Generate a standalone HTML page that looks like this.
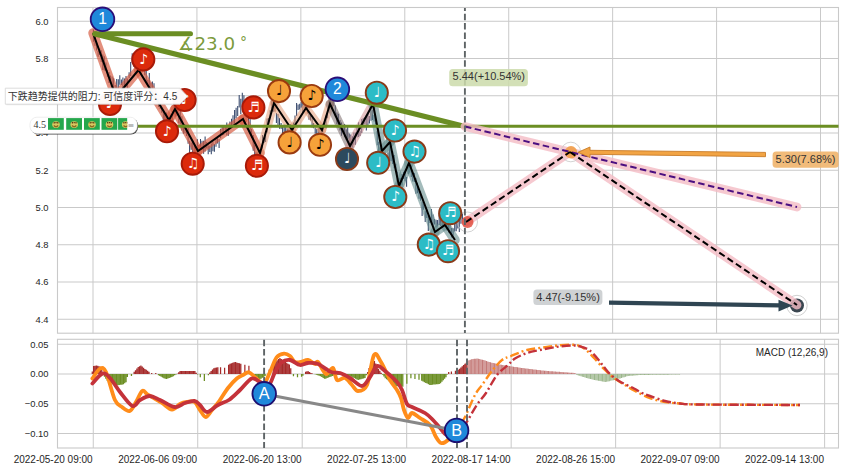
<!DOCTYPE html>
<html><head><meta charset="utf-8"><title>chart</title>
<style>html,body{margin:0;padding:0;background:#fff;width:844px;height:471px;overflow:hidden}svg{display:block}</style>
</head><body>
<svg width="844" height="471" viewBox="0 0 844 471">
<rect width="844" height="471" fill="#fff"/>
<rect x="57.5" y="7.5" width="781.0" height="325.7" fill="#fff" stroke="#c9c9c9" stroke-width="1.1"/>
<rect x="57.5" y="339.3" width="781.0" height="108.69999999999999" fill="#fff" stroke="#c9c9c9" stroke-width="1.1"/>
<path d="M57.5 21.25H838.5 M57.5 58.50H838.5 M57.5 95.75H838.5 M57.5 133.00H838.5 M57.5 170.25H838.5 M57.5 207.50H838.5 M57.5 244.75H838.5 M57.5 282.00H838.5 M57.5 319.25H838.5 M93.00 7.5V333.2 M196.93 7.5V333.2 M300.86 7.5V333.2 M404.79 7.5V333.2 M508.72 7.5V333.2 M612.65 7.5V333.2 M716.58 7.5V333.2 M820.51 7.5V333.2 M57.5 344.25H838.5 M57.5 374.00H838.5 M57.5 403.75H838.5 M57.5 433.50H838.5 M93.25 339.3V448.0 M197.73 339.3V448.0 M302.21 339.3V448.0 M406.69 339.3V448.0 M511.17 339.3V448.0 M615.65 339.3V448.0 M720.13 339.3V448.0 M824.61 339.3V448.0" stroke="#c9c9c9" stroke-width="1" fill="none"/>
<g font-family="Liberation Sans, Arial, sans-serif" font-size="10" fill="#262626" text-anchor="end">
<text x="48.5" y="24.65" font-size="9.4">6.0</text>
<text x="48.5" y="61.90" font-size="9.4">5.8</text>
<text x="48.5" y="99.15" font-size="9.4">5.6</text>
<text x="48.5" y="136.40" font-size="9.4">5.4</text>
<text x="48.5" y="173.65" font-size="9.4">5.2</text>
<text x="48.5" y="210.90" font-size="9.4">5.0</text>
<text x="48.5" y="248.15" font-size="9.4">4.8</text>
<text x="48.5" y="285.40" font-size="9.4">4.6</text>
<text x="48.5" y="322.65" font-size="9.4">4.4</text>
<text x="48.5" y="347.65" font-size="9.4">0.05</text>
<text x="48.5" y="377.40" font-size="9.4">0.00</text>
<text x="48.5" y="407.15" font-size="9.4">−0.05</text>
<text x="48.5" y="436.90" font-size="9.4">−0.10</text>
<text x="92.65" y="462.6">2022-05-20 09:00</text>
<text x="197.13" y="462.6">2022-06-06 09:00</text>
<text x="301.61" y="462.6">2022-06-20 13:00</text>
<text x="406.09" y="462.6">2022-07-25 13:00</text>
<text x="510.57" y="462.6">2022-08-17 14:00</text>
<text x="615.05" y="462.6">2022-08-26 15:00</text>
<text x="719.53" y="462.6">2022-09-07 09:00</text>
<text x="824.01" y="462.6">2022-09-14 13:00</text>
</g>
<path d="M93.5 29.5v12.2 M95.0 34.8v10.9 M96.6 45.1v5.4 M98.1 51.0v5.8 M99.7 48.6v6.4 M101.2 50.2v11.9 M102.8 54.4v15.7 M104.3 56.2v14.4 M105.9 62.5v8.4 M107.4 69.8v7.0 M109.0 72.1v11.0 M110.5 75.5v5.7 M112.1 76.4v8.5 M113.6 78.3v10.0 M115.2 85.0v7.7 M116.7 78.9v10.8 M118.3 79.2v15.8 M119.8 75.2v9.6 M121.4 79.5v5.4 M122.9 77.6v13.4 M124.5 78.5v12.6 M126.0 76.1v11.4 M127.6 78.6v10.2 M129.1 72.2v5.7 M130.7 61.9v14.0 M132.2 53.2v9.2 M133.8 59.9v6.8 M135.3 58.9v5.6 M136.9 57.3v9.3 M138.5 61.4v5.9 M140.0 51.4v14.0 M141.6 58.3v8.1 M143.1 55.8v15.5 M144.7 68.3v6.9 M146.2 70.3v11.5 M147.8 79.8v5.0 M149.3 73.1v15.5 M150.9 82.5v10.7 M152.4 81.4v14.9 M154.0 83.2v14.6 M155.5 89.1v6.1 M157.1 95.8v5.7 M158.6 98.2v8.7 M160.2 103.9v5.0 M161.7 107.4v5.3 M163.3 110.8v11.8 M164.8 113.9v9.0 M166.4 112.4v14.3 M167.9 118.4v5.9 M169.5 118.4v8.8 M171.0 116.2v5.3 M172.6 111.0v10.8 M174.1 103.6v10.8 M175.7 102.0v14.5 M177.2 108.8v6.8 M178.8 112.4v10.9 M180.3 110.7v13.9 M181.9 116.2v14.4 M183.4 126.2v7.5 M185.0 124.4v8.9 M186.5 128.2v7.9 M188.1 128.3v15.5 M189.6 140.7v15.5 M191.2 142.4v7.4 M192.7 140.4v11.9 M194.3 145.6v14.2 M195.8 147.7v5.9 M197.4 139.3v15.0 M198.9 144.9v7.0 M200.5 138.9v8.7 M202.0 140.7v9.4 M203.6 140.7v13.0 M205.1 136.6v15.0 M206.7 142.0v6.6 M208.2 145.3v8.9 M209.8 145.6v6.4 M211.3 143.5v10.8 M212.9 141.5v9.8 M214.4 143.9v7.8 M216.0 139.1v7.6 M217.5 137.1v6.4 M219.1 139.1v8.9 M220.6 128.7v9.6 M222.2 124.9v10.5 M223.7 125.3v9.8 M225.3 125.0v5.0 M226.8 122.4v13.0 M228.4 127.2v8.6 M229.9 121.5v6.2 M231.5 118.7v7.7 M233.0 115.2v11.2 M234.6 110.0v15.0 M236.1 107.7v10.6 M237.7 106.0v10.0 M239.2 94.9v12.7 M240.8 98.8v15.4 M242.3 92.8v14.2 M243.9 95.3v6.3 M245.4 102.6v5.8 M247.0 102.9v13.6 M248.5 115.2v12.3 M250.1 118.0v14.7 M251.6 128.7v9.4 M253.2 134.9v15.9 M254.7 144.7v10.7 M256.3 151.8v7.2 M257.8 151.6v11.1 M259.4 156.3v5.2 M260.9 149.1v5.7 M262.5 134.9v13.7 M264.0 137.5v5.4 M265.6 133.9v8.0 M267.1 118.6v14.0 M268.7 118.1v6.6 M270.2 110.3v6.0 M271.8 98.9v12.6 M273.3 99.7v12.0 M274.9 105.5v5.9 M276.4 112.9v10.0 M278.0 113.9v11.1 M279.5 117.9v10.8 M281.1 122.9v6.2 M282.6 125.0v8.4 M284.2 124.8v13.4 M285.7 126.6v8.8 M287.3 128.4v7.8 M288.8 128.4v7.1 M290.4 124.0v15.3 M291.9 126.3v10.4 M293.5 122.5v9.3 M295.0 115.6v8.8 M296.6 103.1v12.8 M298.1 104.4v5.6 M299.7 103.7v5.8 M301.2 101.9v5.9 M302.8 98.0v14.6 M304.3 100.0v8.2 M305.9 101.5v6.7 M307.4 97.9v15.7 M309.0 112.0v7.7 M310.5 115.4v5.0 M312.1 117.3v10.2 M313.6 123.1v5.1 M315.2 127.7v6.0 M316.7 129.0v8.3 M318.3 127.8v11.4 M319.8 126.5v12.9 M321.4 127.3v9.3 M322.9 123.7v13.0 M324.5 121.9v5.5 M326.0 115.5v13.1 M327.6 111.7v6.5 M329.1 94.5v13.9 M330.7 94.3v11.4 M332.2 101.0v7.5 M333.8 99.5v6.5 M335.3 105.5v11.1 M336.9 112.4v11.9 M338.4 113.8v13.8 M340.0 119.9v10.5 M341.5 122.6v13.1 M343.1 127.7v5.8 M344.6 124.1v13.1 M346.2 129.6v10.4 M347.7 125.5v13.4 M349.3 133.6v12.1 M350.8 134.4v13.2 M352.4 136.2v11.2 M353.9 132.4v12.4 M355.5 132.4v12.4 M357.0 127.3v10.1 M358.6 122.2v14.8 M360.1 130.7v5.2 M361.7 119.1v14.0 M363.2 118.0v7.3 M364.8 116.9v7.3 M366.3 115.0v15.5 M367.9 113.3v14.0 M369.4 115.9v7.5 M371.0 110.4v10.3 M372.5 109.9v10.0 M374.1 115.0v6.5 M375.6 119.5v5.0 M377.2 131.1v14.2 M378.7 141.7v14.9 M380.3 148.0v9.1 M381.8 159.6v9.0 M383.4 159.3v8.0 M384.9 158.6v8.1 M386.5 161.4v7.7 M388.0 152.5v9.1 M389.6 146.2v14.7 M391.1 145.9v15.3 M392.7 151.2v12.9 M394.2 155.0v13.3 M395.8 163.7v8.1 M397.3 171.4v10.2 M398.9 177.9v8.3 M400.4 178.1v12.2 M402.0 174.1v11.1 M403.5 171.8v7.3 M405.1 170.7v10.5 M406.6 176.9v9.9 M408.2 166.9v7.1 M409.7 164.9v7.6 M411.3 165.6v11.3 M412.8 171.8v9.6 M414.4 173.0v9.1 M415.9 178.1v15.6 M417.5 182.7v10.5 M419.0 190.7v8.0 M420.6 191.3v9.4 M422.1 201.5v14.6 M423.7 204.3v5.4 M425.2 210.6v11.5 M426.8 208.7v9.3 M428.3 215.4v15.7 M429.9 216.8v6.2 M431.4 209.0v15.4 M433.0 214.5v12.1 M434.5 219.0v5.4 M436.1 219.8v7.6 M437.6 220.1v6.4 M439.2 213.1v12.0 M440.7 215.1v10.8 M442.3 217.7v9.3 M443.8 216.4v8.3 M445.4 211.7v15.5 M446.9 223.0v7.6 M448.5 216.9v15.6 M450.0 222.5v10.5 M451.6 228.0v9.6 M453.1 228.3v7.5 M454.7 222.8v8.7 M456.2 217.4v13.8 M457.8 217.9v10.6 M459.3 217.9v14.0 M460.9 216.4v7.4 M462.4 212.7v10.5" stroke="#34466a" stroke-width="1.05" fill="none"/>
<line x1="93" y1="33" x2="116" y2="97" stroke="#d65a40" stroke-opacity="0.68" stroke-width="9.5" stroke-linecap="round"/>
<line x1="116" y1="97" x2="138.5" y2="70" stroke="#d65a40" stroke-opacity="0.68" stroke-width="9.5" stroke-linecap="round"/>
<line x1="138.5" y1="70" x2="169" y2="120" stroke="#d65a40" stroke-opacity="0.68" stroke-width="9.5" stroke-linecap="round"/>
<line x1="169" y1="120" x2="175" y2="109" stroke="#d65a40" stroke-opacity="0.68" stroke-width="9.5" stroke-linecap="round"/>
<line x1="175" y1="109" x2="198" y2="151" stroke="#d65a40" stroke-opacity="0.68" stroke-width="9.5" stroke-linecap="round"/>
<line x1="198" y1="151" x2="243" y2="119" stroke="#d65a40" stroke-opacity="0.68" stroke-width="9.5" stroke-linecap="round"/>
<line x1="243" y1="119" x2="260" y2="153" stroke="#d65a40" stroke-opacity="0.68" stroke-width="9.5" stroke-linecap="round"/>
<line x1="260" y1="153" x2="274" y2="103" stroke="#e19169" stroke-opacity="0.5" stroke-width="8.5" stroke-linecap="round"/>
<line x1="274" y1="103" x2="292" y2="130" stroke="#e19169" stroke-opacity="0.5" stroke-width="8.5" stroke-linecap="round"/>
<line x1="292" y1="130" x2="306" y2="108" stroke="#e19169" stroke-opacity="0.5" stroke-width="8.5" stroke-linecap="round"/>
<line x1="306" y1="108" x2="322" y2="130" stroke="#e19169" stroke-opacity="0.5" stroke-width="8.5" stroke-linecap="round"/>
<line x1="322" y1="130" x2="330" y2="104" stroke="#e19169" stroke-opacity="0.5" stroke-width="8.5" stroke-linecap="round"/>
<line x1="330" y1="104" x2="350" y2="146" stroke="#7a6969" stroke-opacity="0.55" stroke-width="9" stroke-linecap="round"/>
<line x1="350" y1="146" x2="373" y2="104" stroke="#d29292" stroke-opacity="0.55" stroke-width="9" stroke-linecap="round"/>
<line x1="373" y1="104" x2="382" y2="151" stroke="#618a8a" stroke-opacity="0.58" stroke-width="9.5" stroke-linecap="round"/>
<line x1="382" y1="151" x2="390" y2="142" stroke="#618a8a" stroke-opacity="0.58" stroke-width="9.5" stroke-linecap="round"/>
<line x1="390" y1="142" x2="399" y2="186" stroke="#618a8a" stroke-opacity="0.58" stroke-width="9.5" stroke-linecap="round"/>
<line x1="399" y1="186" x2="409" y2="163" stroke="#618a8a" stroke-opacity="0.58" stroke-width="9.5" stroke-linecap="round"/>
<line x1="409" y1="163" x2="435" y2="232" stroke="#618a8a" stroke-opacity="0.58" stroke-width="9.5" stroke-linecap="round"/>
<line x1="435" y1="232" x2="445" y2="225" stroke="#618a8a" stroke-opacity="0.58" stroke-width="9.5" stroke-linecap="round"/>
<line x1="445" y1="225" x2="455" y2="240" stroke="#618a8a" stroke-opacity="0.58" stroke-width="9.5" stroke-linecap="round"/>
<polyline points="93,33 116,97 138.5,70 169,120 175,109 198,151 243,119 260,153 274,103 292,130 306,108 322,130 330,104 350,146 373,104 382,151 390,142 399,186 409,163 435,232 445,225 455,240" fill="none" stroke="#000" stroke-width="2" stroke-linejoin="miter"/>
<line x1="60" y1="126.2" x2="838.5" y2="126.2" stroke="#6b8e23" stroke-width="3"/>
<line x1="95" y1="34" x2="465" y2="126.5" stroke="#6b8e23" stroke-width="5.3" stroke-linecap="round"/>
<line x1="95" y1="33.8" x2="190.5" y2="33.8" stroke="#6b8e23" stroke-width="5" stroke-linecap="round"/>
<text x="178" y="50" font-family="DejaVu Sans, sans-serif" font-size="18.3" fill="#6b8e23" fill-opacity="0.9">∡23.0<tspan dx="4.8" dy="-3.4" font-size="14">°</tspan></text>
<circle cx="797" cy="305.5" r="10.2" fill="none" stroke="#c4c4c4" stroke-width="0.8"/>
<circle cx="797" cy="305.5" r="7" fill="#3a4650"/>
<line x1="465" y1="126.5" x2="797" y2="207" stroke="#f4bcc4" stroke-opacity="0.8" stroke-width="8.8" stroke-linecap="round"/>
<line x1="466" y1="222" x2="570" y2="152" stroke="#f4bcc4" stroke-opacity="0.8" stroke-width="8.8" stroke-linecap="round"/>
<line x1="570" y1="152" x2="797" y2="305" stroke="#f4bcc4" stroke-opacity="0.8" stroke-width="8.8" stroke-linecap="round"/>
<circle cx="467.5" cy="222" r="10" fill="none" stroke="#c8c8c8" stroke-width="0.8"/>
<circle cx="467.5" cy="222" r="6" fill="#e04535" fill-opacity="0.8"/>
<circle cx="570.8" cy="152" r="9.8" fill="none" stroke="#c8c8c8" stroke-width="0.8"/>
<circle cx="571" cy="152.3" r="6.2" fill="#f0a050" fill-opacity="0.95"/>
<line x1="465" y1="126.5" x2="797" y2="207" stroke="#4b0f80" stroke-width="2" stroke-dasharray="6.5 3.5"/>
<line x1="466" y1="222" x2="570" y2="152" stroke="#000" stroke-width="2" stroke-dasharray="6.5 3.5"/>
<line x1="570" y1="152" x2="797" y2="305" stroke="#000" stroke-width="2" stroke-dasharray="6.5 3.5"/>
<path d="M765.5 152.4 L765.5 156.7 L590 154.3 L590 157.5 L578 152.3 L590 147 L590 150.3 Z" fill="#f2a444" stroke="#c87c28" stroke-width="0.9" stroke-linejoin="round"/>
<path d="M609 300.6 L780 303.3 L780 307.5 L609 304.8 Z" fill="#2f4552"/>
<path d="M792.5 305.6 L778.5 299.8 L778.5 311.4 Z" fill="#2f4552"/>
<line x1="464.9" y1="8" x2="464.9" y2="333" stroke="#5e6466" stroke-width="1.9" stroke-dasharray="6.5 2.8" stroke-dashoffset="3.5"/>
<circle cx="143.3" cy="59.4" r="11.1" fill="#dc2a0c" stroke="#a81a08" stroke-width="1.9"/>
<text x="143.6" y="63.6" font-family="DejaVu Sans, sans-serif" font-size="14" fill="#fff" text-anchor="middle">♪</text>
<circle cx="110" cy="104" r="11.1" fill="#dc2a0c" stroke="#a81a08" stroke-width="1.9"/>
<text x="110.3" y="108.2" font-family="DejaVu Sans, sans-serif" font-size="14" fill="#fff" text-anchor="middle">♪</text>
<circle cx="184.6" cy="100" r="11.1" fill="#dc2a0c" stroke="#a81a08" stroke-width="1.9"/>
<text x="184.9" y="104.2" font-family="DejaVu Sans, sans-serif" font-size="14" fill="#fff" text-anchor="middle">♪</text>
<circle cx="167" cy="131.3" r="11.1" fill="#dc2a0c" stroke="#a81a08" stroke-width="1.9"/>
<text x="167.3" y="135.5" font-family="DejaVu Sans, sans-serif" font-size="14" fill="#fff" text-anchor="middle">♪</text>
<circle cx="192.7" cy="163.7" r="11.1" fill="#dc2a0c" stroke="#a81a08" stroke-width="1.9"/>
<text x="193.0" y="167.9" font-family="DejaVu Sans, sans-serif" font-size="14" fill="#fff" text-anchor="middle">♫</text>
<circle cx="253.4" cy="107.4" r="11.1" fill="#dc2a0c" stroke="#a81a08" stroke-width="1.9"/>
<text x="253.7" y="111.6" font-family="DejaVu Sans, sans-serif" font-size="14" fill="#fff" text-anchor="middle">♬</text>
<circle cx="256.9" cy="165.8" r="11.1" fill="#dc2a0c" stroke="#a81a08" stroke-width="1.9"/>
<text x="257.2" y="170.0" font-family="DejaVu Sans, sans-serif" font-size="14" fill="#fff" text-anchor="middle">♬</text>
<circle cx="279" cy="91.1" r="11.1" fill="#f6a23a" stroke="#9a3a10" stroke-width="1.9"/>
<text x="279.3" y="95.3" font-family="DejaVu Sans, sans-serif" font-size="14" fill="#000" text-anchor="middle">♩</text>
<circle cx="311.7" cy="96" r="11.1" fill="#f6a23a" stroke="#9a3a10" stroke-width="1.9"/>
<text x="312.0" y="100.2" font-family="DejaVu Sans, sans-serif" font-size="14" fill="#000" text-anchor="middle">♪</text>
<circle cx="289.6" cy="142.4" r="11.1" fill="#f6a23a" stroke="#9a3a10" stroke-width="1.9"/>
<text x="289.9" y="146.6" font-family="DejaVu Sans, sans-serif" font-size="14" fill="#000" text-anchor="middle">♩</text>
<circle cx="320" cy="144.8" r="11.1" fill="#f6a23a" stroke="#9a3a10" stroke-width="1.9"/>
<text x="320.3" y="149.0" font-family="DejaVu Sans, sans-serif" font-size="14" fill="#000" text-anchor="middle">♪</text>
<circle cx="347" cy="159" r="11.1" fill="#2c4a5e" stroke="#8a3a18" stroke-width="1.9"/>
<text x="347.3" y="163.2" font-family="DejaVu Sans, sans-serif" font-size="14" fill="#fff" text-anchor="middle">♩</text>
<circle cx="376.8" cy="92.7" r="11.1" fill="#2cbcc6" stroke="#8a3a18" stroke-width="1.9"/>
<text x="377.1" y="96.9" font-family="DejaVu Sans, sans-serif" font-size="14" fill="#fff" text-anchor="middle">♩</text>
<circle cx="378.2" cy="162.8" r="11.1" fill="#2cbcc6" stroke="#8a3a18" stroke-width="1.9"/>
<text x="378.5" y="167.0" font-family="DejaVu Sans, sans-serif" font-size="14" fill="#fff" text-anchor="middle">♩</text>
<circle cx="395" cy="130.5" r="11.1" fill="#2cbcc6" stroke="#8a3a18" stroke-width="1.9"/>
<text x="395.3" y="134.7" font-family="DejaVu Sans, sans-serif" font-size="14" fill="#fff" text-anchor="middle">♪</text>
<circle cx="395.3" cy="197" r="11.1" fill="#2cbcc6" stroke="#8a3a18" stroke-width="1.9"/>
<text x="395.6" y="201.2" font-family="DejaVu Sans, sans-serif" font-size="14" fill="#fff" text-anchor="middle">♪</text>
<circle cx="414.5" cy="151.6" r="11.1" fill="#2cbcc6" stroke="#8a3a18" stroke-width="1.9"/>
<text x="414.8" y="155.8" font-family="DejaVu Sans, sans-serif" font-size="14" fill="#fff" text-anchor="middle">♫</text>
<circle cx="428.8" cy="244.6" r="11.1" fill="#2cbcc6" stroke="#8a3a18" stroke-width="1.9"/>
<text x="429.1" y="248.8" font-family="DejaVu Sans, sans-serif" font-size="14" fill="#fff" text-anchor="middle">♫</text>
<circle cx="450.2" cy="213.2" r="11.1" fill="#2cbcc6" stroke="#8a3a18" stroke-width="1.9"/>
<text x="450.5" y="217.4" font-family="DejaVu Sans, sans-serif" font-size="14" fill="#fff" text-anchor="middle">♬</text>
<circle cx="448" cy="251.2" r="11.1" fill="#2cbcc6" stroke="#8a3a18" stroke-width="1.9"/>
<text x="448.3" y="255.4" font-family="DejaVu Sans, sans-serif" font-size="14" fill="#fff" text-anchor="middle">♬</text>
<circle cx="102.5" cy="19.3" r="11.8" fill="#1f88da" stroke="#2a0e78" stroke-width="1.8"/>
<text x="102.5" y="24.3" font-family="Liberation Sans, Arial, sans-serif" font-size="15.6" fill="#fff" text-anchor="middle">1</text>
<circle cx="337.4" cy="89.3" r="11.8" fill="#1f88da" stroke="#2a0e78" stroke-width="1.8"/>
<text x="337.4" y="94.3" font-family="Liberation Sans, Arial, sans-serif" font-size="15.6" fill="#fff" text-anchor="middle">2</text>
<rect x="449.2" y="68.9" width="78.7" height="17.4" rx="3.5" fill="#cbdbaa" fill-opacity="0.85"/>
<text x="488.8" y="80.3" font-family="Liberation Sans, Arial, sans-serif" font-size="11" fill="#333" text-anchor="middle">5.44(+10.54%)</text>
<rect x="772.6" y="151.6" width="66" height="16.2" rx="3.5" fill="#f0b46c" fill-opacity="0.9"/>
<text x="805.5" y="163.4" font-family="Liberation Sans, Arial, sans-serif" font-size="11" fill="#333" text-anchor="middle">5.30(7.68%)</text>
<rect x="533.4" y="289.5" width="69" height="15.4" rx="3.5" fill="#cfd2d4"/>
<text x="568" y="300.8" font-family="Liberation Sans, Arial, sans-serif" font-size="11" fill="#333" text-anchor="middle">4.47(-9.15%)</text>
<path d="M92.30 374.0V371.60 M93.65 374.0V365.90 M95.00 374.0V365.70 M96.35 374.0V365.50 M97.70 374.0V365.68 M99.05 374.0V366.22 M100.40 374.0V366.76 M101.75 374.0V369.25 M103.10 374.0V373.30 M134.15 374.0V371.81 M135.50 374.0V370.13 M136.85 374.0V368.44 M138.20 374.0V366.89 M139.55 374.0V366.17 M140.90 374.0V365.45 M142.25 374.0V366.52 M143.60 374.0V367.74 M144.95 374.0V368.95 M146.30 374.0V369.87 M147.65 374.0V370.77 M149.00 374.0V371.67 M151.70 374.0V373.00 M155.75 374.0V373.00 M177.35 374.0V373.65 M178.70 374.0V372.30 M180.05 374.0V371.00 M181.40 374.0V371.00 M182.75 374.0V371.00 M184.10 374.0V371.00 M185.45 374.0V371.00 M186.80 374.0V371.00 M188.15 374.0V371.00 M189.50 374.0V371.00 M190.85 374.0V371.00 M192.20 374.0V371.00 M193.55 374.0V371.00 M194.90 374.0V371.00 M196.25 374.0V372.87 M209.75 374.0V372.50 M211.10 374.0V370.90 M212.45 374.0V369.55 M213.80 374.0V368.20 M215.15 374.0V367.77 M216.50 374.0V367.50 M217.85 374.0V367.23 M220.55 374.0V367.19 M224.60 374.0V367.70 M228.65 374.0V364.70 M230.00 374.0V363.67 M231.35 374.0V363.22 M232.70 374.0V362.77 M234.05 374.0V362.32 M235.40 374.0V362.11 M236.75 374.0V362.50 M238.10 374.0V362.89 M239.45 374.0V363.27 M240.80 374.0V363.66 M244.85 374.0V364.71 M248.90 374.0V365.72 M269.15 374.0V369.40 M273.20 374.0V363.44 M274.55 374.0V362.36 M275.90 374.0V361.28 M277.25 374.0V360.20 M278.60 374.0V359.12 M279.95 374.0V358.04 M281.30 374.0V358.91 M282.65 374.0V359.85 M284.00 374.0V360.80 M285.35 374.0V361.74 M286.70 374.0V362.69 M288.05 374.0V363.63 M289.40 374.0V364.58 M290.75 374.0V368.37 M305.60 374.0V371.80 M306.95 374.0V371.35 M308.30 374.0V371.20 M309.65 374.0V372.10 M311.00 374.0V373.00 M312.35 374.0V373.45 M367.70 374.0V371.90 M369.05 374.0V367.92 M370.40 374.0V365.76 M371.75 374.0V363.60 M373.10 374.0V361.44 M374.45 374.0V360.90 M375.80 374.0V363.60 M377.15 374.0V366.30 M378.50 374.0V368.75 M379.85 374.0V370.78 M381.20 374.0V372.80 M448.70 374.0V371.88 M451.40 374.0V371.43 M455.45 374.0V370.76 M458.15 374.0V369.87 M459.50 374.0V368.67 M460.85 374.0V367.47 M462.20 374.0V366.27 M463.55 374.0V365.07 M464.90 374.0V363.87 M466.25 374.0V362.67" stroke="#a52a2a" stroke-width="1.25" fill="none"/>
<path d="M104.45 374.0V376.67 M105.80 374.0V378.70 M107.15 374.0V380.72 M108.50 374.0V382.25 M109.85 374.0V382.92 M111.20 374.0V383.60 M112.55 374.0V384.27 M113.90 374.0V384.63 M115.25 374.0V384.81 M116.60 374.0V385.00 M117.95 374.0V385.19 M119.30 374.0V385.02 M120.65 374.0V384.83 M122.00 374.0V384.64 M123.35 374.0V384.27 M124.70 374.0V383.37 M126.05 374.0V382.23 M127.40 374.0V376.90 M131.45 374.0V375.89 M158.45 374.0V375.24 M159.80 374.0V375.97 M161.15 374.0V376.69 M162.50 374.0V377.42 M163.85 374.0V378.14 M165.20 374.0V378.87 M166.55 374.0V379.09 M167.90 374.0V378.57 M169.25 374.0V378.05 M170.60 374.0V377.54 M171.95 374.0V377.02 M173.30 374.0V376.13 M174.65 374.0V375.23 M176.00 374.0V374.50 M197.60 374.0V374.60 M200.30 374.0V377.19 M204.35 374.0V380.90 M208.40 374.0V375.20 M252.95 374.0V376.85 M254.30 374.0V377.46 M255.65 374.0V377.95 M257.00 374.0V378.43 M258.35 374.0V378.91 M259.70 374.0V379.39 M261.05 374.0V378.77 M262.40 374.0V377.82 M263.75 374.0V376.88 M265.10 374.0V375.93 M293.45 374.0V376.13 M297.50 374.0V377.29 M301.55 374.0V376.84 M302.90 374.0V375.82 M315.05 374.0V374.35 M316.40 374.0V374.80 M317.75 374.0V375.25 M319.10 374.0V375.70 M320.45 374.0V376.27 M321.80 374.0V377.08 M323.15 374.0V377.89 M324.50 374.0V378.70 M325.85 374.0V378.66 M327.20 374.0V378.12 M328.55 374.0V377.58 M329.90 374.0V377.04 M331.25 374.0V376.50 M332.60 374.0V375.96 M333.95 374.0V375.42 M335.30 374.0V375.00 M336.65 374.0V375.00 M338.00 374.0V375.00 M339.35 374.0V375.00 M340.70 374.0V375.00 M342.05 374.0V375.00 M343.40 374.0V375.00 M344.75 374.0V375.00 M346.10 374.0V375.22 M347.45 374.0V375.49 M348.80 374.0V375.76 M350.15 374.0V376.08 M351.50 374.0V376.75 M352.85 374.0V377.43 M354.20 374.0V378.10 M355.55 374.0V378.78 M356.90 374.0V379.45 M358.25 374.0V379.93 M359.60 374.0V379.54 M360.95 374.0V379.16 M362.30 374.0V378.77 M363.65 374.0V378.39 M365.00 374.0V378.00 M366.35 374.0V375.30 M382.55 374.0V374.73 M383.90 374.0V376.53 M385.25 374.0V378.20 M386.60 374.0V379.28 M387.95 374.0V380.36 M389.30 374.0V381.44 M390.65 374.0V382.52 M392.00 374.0V383.60 M393.35 374.0V384.68 M394.70 374.0V385.76 M396.05 374.0V386.11 M397.40 374.0V386.24 M398.75 374.0V386.38 M400.10 374.0V386.51 M401.45 374.0V386.65 M402.80 374.0V386.78 M406.85 374.0V383.67 M410.90 374.0V378.18 M414.95 374.0V378.99 M419.00 374.0V379.80 M421.70 374.0V380.85 M423.05 374.0V381.53 M424.40 374.0V382.20 M425.75 374.0V382.88 M427.10 374.0V383.55 M428.45 374.0V384.23 M429.80 374.0V384.90 M431.15 374.0V384.88 M432.50 374.0V384.75 M433.85 374.0V384.61 M435.20 374.0V384.48 M436.55 374.0V384.34 M437.90 374.0V384.21 M439.25 374.0V384.07 M440.60 374.0V383.31 M441.95 374.0V381.77 M443.30 374.0V380.23 M444.65 374.0V378.69 M446.00 374.0V377.14 M447.35 374.0V374.60" stroke="#6b8e23" stroke-width="1.25" fill="none"/>
<path d="M467.60 374.0V360.76 M468.95 374.0V360.22 M470.30 374.0V359.68 M471.65 374.0V359.14 M473.00 374.0V358.90 M474.35 374.0V358.76 M475.70 374.0V358.63 M477.05 374.0V358.51 M478.40 374.0V358.80 M479.75 374.0V359.10 M481.10 374.0V359.39 M482.45 374.0V359.68 M483.80 374.0V360.07 M485.15 374.0V360.54 M486.50 374.0V361.00 M487.85 374.0V361.46 M489.20 374.0V361.93 M490.55 374.0V362.33 M491.90 374.0V362.64 M493.25 374.0V362.95 M494.60 374.0V363.26 M495.95 374.0V363.57 M497.30 374.0V363.88 M498.65 374.0V364.19 M500.00 374.0V364.50 M501.35 374.0V364.72 M502.70 374.0V364.93 M504.05 374.0V365.15 M505.40 374.0V365.36 M506.75 374.0V365.58 M508.10 374.0V365.80 M509.45 374.0V366.01 M510.80 374.0V366.23 M512.15 374.0V366.44 M513.50 374.0V366.66 M514.85 374.0V366.88 M516.20 374.0V367.09 M517.55 374.0V367.31 M518.90 374.0V367.52 M520.25 374.0V367.73 M521.60 374.0V367.90 M522.95 374.0V368.07 M524.30 374.0V368.23 M525.65 374.0V368.40 M527.00 374.0V368.57 M528.35 374.0V368.74 M529.70 374.0V368.90 M531.05 374.0V369.07 M532.40 374.0V369.24 M533.75 374.0V369.41 M535.10 374.0V369.57 M536.45 374.0V369.74 M537.80 374.0V369.91 M539.15 374.0V370.07 M540.50 374.0V370.24 M541.85 374.0V370.41 M543.20 374.0V370.58 M544.55 374.0V370.74 M545.90 374.0V370.87 M547.25 374.0V370.97 M548.60 374.0V371.06 M549.95 374.0V371.16 M551.30 374.0V371.26 M552.65 374.0V371.36 M554.00 374.0V371.46 M555.35 374.0V371.56 M556.70 374.0V371.66 M558.05 374.0V371.76 M559.40 374.0V371.86 M560.75 374.0V371.96 M562.10 374.0V372.05 M563.45 374.0V372.15 M564.80 374.0V372.25 M566.15 374.0V372.35 M567.50 374.0V372.45 M568.85 374.0V372.55 M570.20 374.0V372.65 M571.55 374.0V372.75 M572.90 374.0V372.85 M574.25 374.0V372.95 M575.60 374.0V373.60" stroke="#c47a78" stroke-width="1.1" fill="none"/>
<path d="M576.95 374.0V374.95 M578.30 374.0V375.40 M579.65 374.0V375.82 M581.00 374.0V376.23 M582.35 374.0V376.65 M583.70 374.0V377.06 M585.05 374.0V377.48 M586.40 374.0V377.89 M587.75 374.0V378.31 M589.10 374.0V378.72 M590.45 374.0V379.09 M591.80 374.0V379.36 M593.15 374.0V379.63 M594.50 374.0V379.90 M595.85 374.0V380.17 M597.20 374.0V380.44 M598.55 374.0V380.71 M599.90 374.0V380.98 M601.25 374.0V381.25 M602.60 374.0V381.52 M603.95 374.0V381.79 M605.30 374.0V381.94 M606.65 374.0V381.67 M608.00 374.0V381.40 M609.35 374.0V381.13 M610.70 374.0V380.86 M612.05 374.0V380.59 M613.40 374.0V380.32 M614.75 374.0V380.05 M616.10 374.0V379.66 M617.45 374.0V379.25 M618.80 374.0V378.83 M620.15 374.0V378.42 M621.50 374.0V378.00 M622.85 374.0V377.58 M624.20 374.0V377.17 M625.55 374.0V376.75 M626.90 374.0V376.34 M628.25 374.0V375.98 M629.60 374.0V375.87 M630.95 374.0V375.75 M632.30 374.0V375.64 M633.65 374.0V375.53 M635.00 374.0V375.42 M636.35 374.0V375.30 M637.70 374.0V375.19 M639.05 374.0V375.08 M640.40 374.0V374.99 M641.75 374.0V374.98 M643.10 374.0V374.96 M644.45 374.0V374.94 M645.80 374.0V374.93 M647.15 374.0V374.91 M648.50 374.0V374.89 M649.85 374.0V374.88 M651.20 374.0V374.86 M652.55 374.0V374.84 M653.90 374.0V374.83 M655.25 374.0V374.81 M656.60 374.0V374.79 M657.95 374.0V374.78 M659.30 374.0V374.76 M660.65 374.0V374.74 M662.00 374.0V374.72 M663.35 374.0V374.71 M664.70 374.0V374.69 M666.05 374.0V374.67 M667.40 374.0V374.66 M668.75 374.0V374.64 M670.10 374.0V374.62 M671.45 374.0V374.61 M672.80 374.0V374.59 M674.15 374.0V374.57 M675.50 374.0V374.56 M676.85 374.0V374.54 M678.20 374.0V374.52 M679.55 374.0V374.51" stroke="#9cb68c" stroke-width="1.1" fill="none"/>
<path d="M92.4,378.5 C93.67,376.85 97.73,369.68 100,368.6 C102.27,367.52 103.53,366.82 106,372 C108.47,377.18 112.13,393.87 114.8,399.7 C117.47,405.53 119.50,405.13 122,407 C124.50,408.87 127.47,411.73 129.8,410.9 C132.13,410.07 133.93,405.32 136,402 C138.07,398.68 140.37,392.33 142.2,391 C144.03,389.67 145.37,393.00 147,394 C148.63,395.00 149.50,395.50 152,397 C154.50,398.50 158.67,400.90 162,403 C165.33,405.10 169.00,409.43 172,409.6 C175.00,409.77 177.50,405.27 180,404 C182.50,402.73 184.58,402.33 187,402 C189.42,401.67 192.33,400.67 194.5,402 C196.67,403.33 198.13,407.50 200,410 C201.87,412.50 203.70,417.00 205.7,417 C207.70,417.00 209.73,412.67 212,410 C214.27,407.33 216.63,404.67 219.3,401 C221.97,397.33 225.08,391.75 228,388 C230.92,384.25 234.30,380.67 236.8,378.5 C239.30,376.33 240.97,376.03 243,375 C245.03,373.97 246.83,371.80 249,372.3 C251.17,372.80 253.50,376.13 256,378 C258.50,379.87 261.67,384.50 264,383.5 C266.33,382.50 267.90,376.35 270,372 C272.10,367.65 274.27,360.45 276.6,357.4 C278.93,354.35 281.77,353.93 284,353.7 C286.23,353.47 288.17,354.62 290,356 C291.83,357.38 293.17,361.00 295,362 C296.83,363.00 298.83,362.33 301,362 C303.17,361.67 305.67,359.67 308,360 C310.33,360.33 313.33,363.67 315,364 C316.67,364.33 316.17,360.33 318,362 C319.83,363.67 323.50,373.00 326,374 C328.50,375.00 331.17,367.00 333,368 C334.83,369.00 335.00,378.33 337,380 C339.00,381.67 342.50,377.17 345,378 C347.50,378.83 349.83,382.83 352,385 C354.17,387.17 355.50,391.00 358,391 C360.50,391.00 364.33,391.00 367,385 C369.67,379.00 371.67,358.83 374,355 C376.33,351.17 378.33,357.83 381,362 C383.67,366.17 387.33,375.33 390,380 C392.67,384.67 395.17,387.00 397,390 C398.83,393.00 399.83,394.67 401,398 C402.17,401.33 402.83,406.67 404,410 C405.17,413.33 406.67,417.50 408,418 C409.33,418.50 410.00,413.00 412,413 C414.00,413.00 417.00,416.00 420,418 C423.00,420.00 427.33,421.83 430,425 C432.67,428.17 434.17,434.00 436,437 C437.83,440.00 439.00,442.50 441,443 C443.00,443.50 445.67,442.17 448,440 C450.33,437.83 453.00,432.67 455,430 C457.00,427.33 459.17,425.00 460,424" fill="none" stroke="#ff8c1a" stroke-width="3.8" stroke-linejoin="round" stroke-linecap="round"/>
<path d="M92.4,383.5 C94.07,381.85 99.47,374.52 102.4,373.6 C105.33,372.68 107.07,374.93 110,378 C112.93,381.07 116.28,387.35 120,392 C123.72,396.65 128.97,404.57 132.3,405.9 C135.63,407.23 137.10,401.65 140,400 C142.90,398.35 146.37,396.00 149.7,396 C153.03,396.00 155.87,398.17 160,400 C164.13,401.83 170.33,406.50 174.5,407 C178.67,407.50 181.67,404.00 185,403 C188.33,402.00 192.00,400.67 194.5,401 C197.00,401.33 197.92,403.17 200,405 C202.08,406.83 204.00,412.00 207,412 C210.00,412.00 214.28,407.05 218,405 C221.72,402.95 225.63,402.20 229.3,399.7 C232.97,397.20 236.27,393.53 240,390 C243.73,386.47 248.37,379.83 251.7,378.5 C255.03,377.17 257.12,380.95 260,382 C262.88,383.05 266.50,386.47 269,384.8 C271.50,383.13 272.92,375.73 275,372 C277.08,368.27 279.00,364.40 281.5,362.4 C284.00,360.40 286.92,359.57 290,360 C293.08,360.43 297.00,364.50 300,365 C303.00,365.50 305.00,363.17 308,363 C311.00,362.83 314.17,362.50 318,364 C321.83,365.50 327.33,370.50 331,372 C334.67,373.50 336.83,372.00 340,373 C343.17,374.00 346.33,375.83 350,378 C353.67,380.17 358.67,386.17 362,386 C365.33,385.83 367.50,380.33 370,377 C372.50,373.67 374.50,367.00 377,366 C379.50,365.00 381.67,368.33 385,371 C388.33,373.67 394.17,378.83 397,382 C399.83,385.17 400.33,386.33 402,390 C403.67,393.67 405.33,401.17 407,404 C408.67,406.83 409.00,405.50 412,407 C415.00,408.50 421.50,410.83 425,413 C428.50,415.17 430.50,417.50 433,420 C435.50,422.50 437.67,425.50 440,428 C442.33,430.50 444.50,434.67 447,435 C449.50,435.33 453.67,430.83 455,430" fill="none" stroke="#c4323a" stroke-width="3.8" stroke-linejoin="round" stroke-linecap="round"/>
<path d="M461,423 C461.67,422.00 462.67,421.67 465,417 C467.33,412.33 472.17,400.33 475,395 C477.83,389.67 479.17,389.00 482,385 C484.83,381.00 488.67,375.17 492,371 C495.33,366.83 498.83,362.50 502,360 C505.17,357.50 506.83,357.67 511,356 C515.17,354.33 521.33,351.45 527,350 C532.67,348.55 539.50,348.10 545,347.3 C550.50,346.50 554.83,345.58 560,345.2 C565.17,344.82 571.83,344.37 576,345 C580.17,345.63 582.00,346.83 585,349 C588.00,351.17 590.83,354.67 594,358 C597.17,361.33 600.67,365.67 604,369 C607.33,372.33 610.50,375.33 614,378 C617.50,380.67 621.50,382.83 625,385 C628.50,387.17 630.83,388.83 635,391 C639.17,393.17 645.00,396.17 650,398 C655.00,399.83 660.00,401.08 665,402 C670.00,402.92 674.17,403.08 680,403.5 C685.83,403.92 680.00,404.25 700,404.5 C720.00,404.75 783.33,404.92 800,405" fill="none" stroke="#ff8c1a" stroke-width="2.4" stroke-dasharray="9 3 2 3"/>
<path d="M463,428 C463.83,426.67 465.67,423.88 468,420 C470.33,416.12 474.00,409.20 477,404.7 C480.00,400.20 482.67,397.95 486,393 C489.33,388.05 493.33,379.67 497,375 C500.67,370.33 505.00,367.73 508,365 C511.00,362.27 511.83,360.60 515,358.6 C518.17,356.60 522.83,354.43 527,353 C531.17,351.57 535.17,351.00 540,350 C544.83,349.00 550.67,347.75 556,347 C561.33,346.25 568.00,345.60 572,345.5 C576.00,345.40 577.17,345.65 580,346.4 C582.83,347.15 586.17,348.07 589,350 C591.83,351.93 594.50,355.17 597,358 C599.50,360.83 601.83,364.33 604,367 C606.17,369.67 607.50,371.67 610,374 C612.50,376.33 615.00,378.58 619,381 C623.00,383.42 630.17,386.50 634,388.5 C637.83,390.50 639.33,391.75 642,393 C644.67,394.25 646.17,394.67 650,396 C653.83,397.33 660.00,399.75 665,401 C670.00,402.25 674.17,402.92 680,403.5 C685.83,404.08 680.00,404.25 700,404.5 C720.00,404.75 783.33,404.92 800,405" fill="none" stroke="#c4323a" stroke-width="2.4" stroke-dasharray="9 3 2 3"/>
<line x1="264.1" y1="339.8" x2="264.1" y2="448.0" stroke="#5e6466" stroke-width="1.9" stroke-dasharray="6.5 2.8"/>
<line x1="457.0" y1="339.8" x2="457.0" y2="448.0" stroke="#5e6466" stroke-width="1.9" stroke-dasharray="6.5 2.8"/>
<line x1="467.0" y1="339.8" x2="467.0" y2="448.0" stroke="#5e6466" stroke-width="1.9" stroke-dasharray="6.5 2.8"/>
<line x1="264" y1="394" x2="456.6" y2="430.5" stroke="#888" stroke-width="3"/>
<circle cx="264.2" cy="393.8" r="11.8" fill="#1f88da" stroke="#1c0e70" stroke-width="1.8"/>
<text x="264.2" y="399.4" font-family="Liberation Sans, Arial, sans-serif" font-size="16.2" fill="#fff" text-anchor="middle">A</text>
<circle cx="456.6" cy="430.4" r="11.8" fill="#1f88da" stroke="#1c0e70" stroke-width="1.8"/>
<text x="456.6" y="436.0" font-family="Liberation Sans, Arial, sans-serif" font-size="16.2" fill="#fff" text-anchor="middle">B</text>
<text x="828" y="355.6" font-family="Liberation Sans, Arial, sans-serif" font-size="10" fill="#262626" text-anchor="end">MACD (12,26,9)</text>
<path d="M5.5 88.5 H180 L187.5 96.4 L180 104.2 H5.5 Z" fill="#000" fill-opacity="0.08" transform="translate(0.8,1)"/>
<path d="M5.3 88.2 H180 L187.5 96.4 L180 104.2 H5.3 Z" fill="#fff" fill-opacity="0.97" stroke="#d4d4d4" stroke-width="0.8"/>
<text x="7.8" y="100" font-family="Liberation Sans, Noto Sans CJK SC, sans-serif" font-size="10" fill="#333">下跌趋势提供的阻力: 可信度评分：4.5</text>
<rect x="31" y="118.3" width="107" height="16.2" rx="7" fill="#444"/>
<rect x="30" y="117.2" width="107.2" height="16.3" rx="7" fill="#fff" stroke="#e2e2e2" stroke-width="0.6"/>
<text x="33.6" y="127.8" font-family="Liberation Serif, serif" font-size="10" fill="#333">4.5</text>
<rect x="48.0" y="118.1" width="15.8" height="11.7" fill="#25a74c"/>
<ellipse cx="56.0" cy="124.6" rx="3.8" ry="3.4" fill="#d8c860"/>
<path d="M53.6 122.8h1.2M55.4 122.6h1.2M57.2 122.8h1.2" stroke="#5a3a10" stroke-width="1.4"/>
<path d="M53.8 125.6q2.2 2.4 4.4 0" stroke="#8a6a20" stroke-width="1.5" fill="none"/>
<rect x="66.2" y="118.1" width="15.8" height="11.7" fill="#25a74c"/>
<ellipse cx="74.2" cy="124.6" rx="3.8" ry="3.4" fill="#d8c860"/>
<path d="M71.8 122.8h1.2M73.6 122.6h1.2M75.4 122.8h1.2" stroke="#5a3a10" stroke-width="1.4"/>
<path d="M72.0 125.6q2.2 2.4 4.4 0" stroke="#8a6a20" stroke-width="1.5" fill="none"/>
<rect x="84.0" y="118.1" width="15.8" height="11.7" fill="#25a74c"/>
<ellipse cx="92.0" cy="124.6" rx="3.8" ry="3.4" fill="#d8c860"/>
<path d="M89.6 122.8h1.2M91.4 122.6h1.2M93.2 122.8h1.2" stroke="#5a3a10" stroke-width="1.4"/>
<path d="M89.8 125.6q2.2 2.4 4.4 0" stroke="#8a6a20" stroke-width="1.5" fill="none"/>
<rect x="101.5" y="118.1" width="15.8" height="11.7" fill="#25a74c"/>
<ellipse cx="109.5" cy="124.6" rx="3.8" ry="3.4" fill="#d8c860"/>
<path d="M107.1 122.8h1.2M108.9 122.6h1.2M110.7 122.8h1.2" stroke="#5a3a10" stroke-width="1.4"/>
<path d="M107.3 125.6q2.2 2.4 4.4 0" stroke="#8a6a20" stroke-width="1.5" fill="none"/>
<rect x="118.1" y="118.1" width="9.3" height="11.7" fill="#25a74c"/>
<ellipse cx="125.7" cy="124.6" rx="3.8" ry="3.4" fill="#d8c860"/>
<path d="M123.3 122.8h1.2M125.1 122.6h1.2M126.9 122.8h1.2" stroke="#5a3a10" stroke-width="1.4"/>
<path d="M123.5 125.6q2.2 2.4 4.4 0" stroke="#8a6a20" stroke-width="1.5" fill="none"/>
<rect x="127.4" y="118" width="6" height="12" fill="#fff"/>
<text x="127.5" y="128" font-family="DejaVu Sans, sans-serif" font-size="8" fill="#888">≡</text>
</svg>
</body></html>
